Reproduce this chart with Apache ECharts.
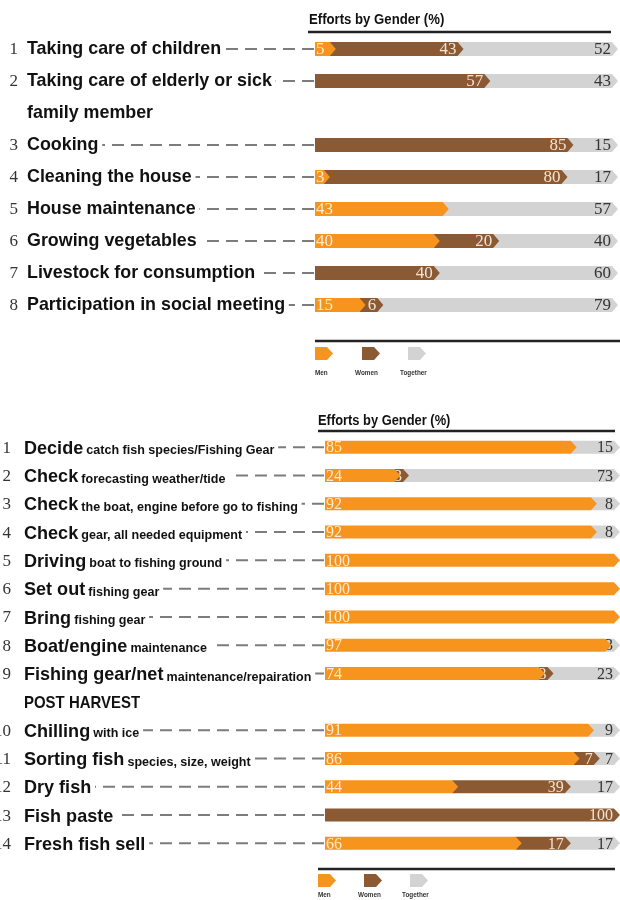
<!DOCTYPE html>
<html><head><meta charset="utf-8">
<script src="https://cdn.jsdelivr.net/npm/echarts@6/dist/echarts.min.js"></script>
<style>html,body{margin:0;padding:0;background:#fff}#c{width:620px;height:900px}</style>
</head><body><div id="c"></div><script>
// ---------- DATA ----------
const topLabels = ['Taking care of children', 'Taking care of elderly or sick\nfamily member', 'Cooking', 'Cleaning the house', 'House maintenance', 'Growing vegetables', 'Livestock for consumption', 'Participation in social meeting'];
const topSlots = [0, 1, 3, 4, 5, 6, 7, 8];
const topMen = [5, 0, 0, 3, 43, 40, 0, 15];
const topWomen = [43, 57, 85, 80, 0, 20, 40, 6];
const topTogether = [52, 43, 15, 17, 57, 40, 60, 79];

const botMain = ['Decide', 'Check', 'Check', 'Check', 'Driving', 'Set out', 'Bring', 'Boat/engine', 'Fishing gear/net', 'Chilling', 'Sorting fish', 'Dry fish', 'Fish paste', 'Fresh fish sell'];
const botSub = ['catch fish species/Fishing Gear', 'forecasting weather/tide', 'the boat, engine before go to fishing', 'gear, all needed equipment', 'boat to fishing ground', 'fishing gear', 'fishing gear', 'maintenance', 'maintenance/repairation', 'with ice', 'species, size, weight', '', '', ''];
const botSlots = [0, 1, 2, 3, 4, 5, 6, 7, 8, 10, 11, 12, 13, 14];
const botHeading = 'POST HARVEST';
const botHeadingSlot = 9;
const botMen = [85, 24, 92, 92, 100, 100, 100, 97, 74, 91, 86, 44, 0, 66];
const botWomen = [0, 3, 0, 0, 0, 0, 0, 0, 3, 0, 7, 39, 100, 17];
const botTogether = [15, 73, 8, 8, 0, 0, 0, 3, 23, 9, 7, 17, 0, 17];

const headerText = 'Efforts by Gender (%)';
const legendNames = ['Men', 'Women', 'Together'];

// ---------- STYLE ----------
const SANS = '"Liberation Sans",Arimo,Arial,sans-serif';
const SERIF = '"Liberation Serif","DejaVu Serif",serif';
const ORANGE = '#F7941E', BROWN = '#8B5A33', GRAY = '#D3D3D3';
const COLORS = [ORANGE, BROWN, GRAY];

function segData(slots, men, women, tog) {
  const m = [], w = [], t = [];
  slots.forEach((s, i) => {
    m.push([0, s, men[i], men[i]]);
    w.push([men[i], s, men[i] + women[i], women[i]]);
    t.push([men[i] + women[i], s, men[i] + women[i] + tog[i], tog[i]]);
  });
  return { m, w, t };
}

function segRenderer(kind, barH, tip, fs) {
  return function (params, api) {
    const v = api.value(3);
    if (!v) return null;
    const a = api.coord([api.value(0), api.value(1)]);
    const b = api.coord([api.value(2), api.value(1)]);
    const y = a[1], x0 = a[0], x1 = b[0], hh = barH / 2;
    const color = kind === 'm' ? ORANGE : kind === 'w' ? BROWN : GRAY;
    const children = [{
      type: 'polygon',
      shape: { points: [[x0, y - hh], [x1, y - hh], [x1 + tip, y], [x1, y + hh], [x0, y + hh]] },
      style: { fill: color }
    }];
    let tx, align, fill;
    if (kind === 'm') { tx = x0 + 1; align = 'left'; fill = '#FFEBD2'; }
    else if (kind === 'w') { tx = x1 - 1; align = 'right'; fill = '#F4E3D2'; }
    else { tx = x1 - 1; align = 'right'; fill = '#333'; }
    children.push({
      type: 'text',
      style: { text: String(v), x: tx, y: y + 1, align: align, verticalAlign: 'middle', font: fs + 'px ' + SERIF, fill: fill }
    });
    return { type: 'group', children: children };
  };
}

function topLabelRenderer(params, api) {
  const slot = api.value(1), i = api.value(2);
  const p = api.coord([0, slot]);
  const y = p[1];
  return {
    type: 'group', children: [
      { type: 'line', shape: { x1: p[0] - 1, y1: y, x2: 40, y2: y }, style: { stroke: '#7c7c7c', lineWidth: 2, lineDash: [12, 7] } },
      { type: 'text', style: { text: String(i + 1), x: 18, y: y + 1, align: 'right', verticalAlign: 'middle', font: '17px ' + SERIF, fill: '#333' } },
      { type: 'text', x: 27, y: y - 16, scaleX: 0.94,
        style: { text: topLabels[i], x: 0, y: 0, align: 'left', verticalAlign: 'top', lineHeight: 32, font: 'bold 19px ' + SANS, fill: '#111', backgroundColor: '#fff', padding: [0, 4, 0, 0] } }
    ]
  };
}

function botLabelRenderer(params, api) {
  const slot = api.value(1), i = api.value(2);
  const p = api.coord([0, slot]);
  const y = p[1];
  if (i < 0) {
    return { type: 'text', x: 24, y: y + 1, scaleX: 0.88,
      style: { text: botHeading, x: 0, y: 0, align: 'left', verticalAlign: 'middle', font: 'bold 17px ' + SANS, fill: '#111' } };
  }
  const sub = botSub[i] ? ' {b|' + botSub[i] + '}' : '';
  return {
    type: 'group', children: [
      { type: 'line', shape: { x1: p[0] - 1, y1: y, x2: 40, y2: y }, style: { stroke: '#7c7c7c', lineWidth: 2, lineDash: [12, 7] } },
      { type: 'text', style: { text: String(i + 1), x: 11, y: y + 1, align: 'right', verticalAlign: 'middle', font: '17px ' + SERIF, fill: '#333' } },
      { type: 'text', x: 24, y: y, scaleX: 0.95,
        style: {
          text: '{a|' + botMain[i] + '}' + sub, x: 0, y: 0, align: 'left', verticalAlign: 'middle',
          backgroundColor: '#fff', padding: [0, 4, 0, 0],
          rich: {
            a: { font: 'bold 19px ' + SANS, fill: '#111', verticalAlign: 'bottom', lineHeight: 22 },
            b: { font: 'bold 13.2px ' + SANS, fill: '#111', verticalAlign: 'bottom', lineHeight: 22, padding: [0, 0, 1, 0] }
          }
        } }
    ]
  };
}

const topD = segData(topSlots, topMen, topWomen, topTogether);
const botD = segData(botSlots, botMen, botWomen, botTogether);
const topSlotNames = Array.from({ length: 9 }, (_, k) => 's' + k);
const botSlotNames = Array.from({ length: 15 }, (_, k) => 's' + k);

const topLabelData = topSlots.map((s, i) => [0, s, i]);
const botLabelData = botSlots.map((s, i) => [0, s, i]).concat([[0, botHeadingSlot, -1]]);

function legendGraphics(lineY, lineX1, lineX2, iconXs, iconY, textXs, textY) {
  const g = [{ type: 'line', shape: { x1: lineX1, y1: lineY, x2: lineX2, y2: lineY }, style: { stroke: '#222', lineWidth: 2.5 } }];
  iconXs.forEach((x, k) => {
    g.push({ type: 'polygon', shape: { points: [[x, iconY], [x + 12, iconY], [x + 18, iconY + 6.5], [x + 12, iconY + 13], [x, iconY + 13]] }, style: { fill: COLORS[k] } });
    g.push({ type: 'text', x: textXs[k], y: textY, scaleX: 0.85, style: { text: legendNames[k], font: 'bold 7.5px ' + SANS, fill: '#333', verticalAlign: 'middle' } });
  });
  return g;
}

const chart = echarts.init(document.getElementById('c'), null, { renderer: 'canvas' });
chart.setOption({
  animation: false,
  backgroundColor: '#fff',
  grid: [
    { left: 315, right: 8, top: 33, height: 288 },
    { left: 325, right: 6, top: 433, height: 424.5 }
  ],
  xAxis: [
    { type: 'value', min: 0, max: 100, gridIndex: 0, show: false },
    { type: 'value', min: 0, max: 100, gridIndex: 1, show: false }
  ],
  yAxis: [
    { type: 'category', data: topSlotNames, inverse: true, gridIndex: 0, show: false },
    { type: 'category', data: botSlotNames, inverse: true, gridIndex: 1, show: false }
  ],
  series: [
    { name: 'TopTogether', type: 'custom', xAxisIndex: 0, yAxisIndex: 0, z: 2, renderItem: segRenderer('t', 14, 6, 17), data: topD.t, encode: { x: [0, 2], y: 1 } },
    { name: 'TopWomen', type: 'custom', xAxisIndex: 0, yAxisIndex: 0, z: 3, renderItem: segRenderer('w', 14, 6, 17), data: topD.w, encode: { x: [0, 2], y: 1 } },
    { name: 'TopMen', type: 'custom', xAxisIndex: 0, yAxisIndex: 0, z: 4, renderItem: segRenderer('m', 14, 6, 17), data: topD.m, encode: { x: [0, 2], y: 1 } },
    { name: 'TopLabels', type: 'custom', xAxisIndex: 0, yAxisIndex: 0, z: 1, renderItem: topLabelRenderer, data: topLabelData, encode: { x: 0, y: 1 } },
    { name: 'BotTogether', type: 'custom', xAxisIndex: 1, yAxisIndex: 1, z: 2, renderItem: segRenderer('t', 13, 6, 16), data: botD.t, encode: { x: [0, 2], y: 1 } },
    { name: 'BotWomen', type: 'custom', xAxisIndex: 1, yAxisIndex: 1, z: 3, renderItem: segRenderer('w', 13, 6, 16), data: botD.w, encode: { x: [0, 2], y: 1 } },
    { name: 'BotMen', type: 'custom', xAxisIndex: 1, yAxisIndex: 1, z: 4, renderItem: segRenderer('m', 13, 6, 16), data: botD.m, encode: { x: [0, 2], y: 1 } },
    { name: 'BotLabels', type: 'custom', xAxisIndex: 1, yAxisIndex: 1, z: 1, renderItem: botLabelRenderer, data: botLabelData, encode: { x: 0, y: 1 } }
  ],
  graphic: [
    { type: 'text', x: 309, y: 20, scaleX: 0.94, style: { text: headerText, font: 'bold 14px ' + SANS, fill: '#111', verticalAlign: 'middle' } },
    { type: 'line', shape: { x1: 308, y1: 32, x2: 611, y2: 32 }, style: { stroke: '#222', lineWidth: 2.5 } },
    { type: 'text', x: 318, y: 421, scaleX: 0.92, style: { text: headerText, font: 'bold 14px ' + SANS, fill: '#111', verticalAlign: 'middle' } },
    { type: 'line', shape: { x1: 318, y1: 431, x2: 615, y2: 431 }, style: { stroke: '#222', lineWidth: 2.5 } }
  ].concat(
    legendGraphics(341, 315, 620, [315, 362, 408], 347, [315, 355, 400], 373),
    legendGraphics(869, 318, 615, [318, 364, 410], 874, [318, 358, 402], 895)
  )
});
</script></body></html>
